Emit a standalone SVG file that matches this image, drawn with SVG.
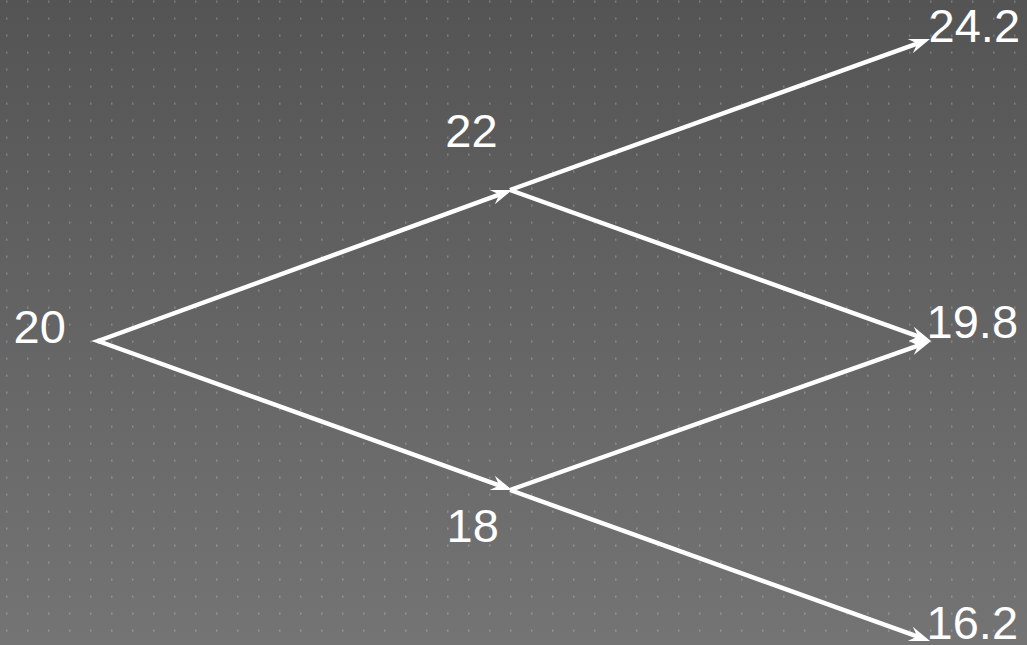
<svg xmlns="http://www.w3.org/2000/svg" width="1027" height="645" viewBox="0 0 1027 645">
  <style>
    .lbl { font-family: "Liberation Sans", Arial, sans-serif; font-size: 47px; fill: #ffffff; }
    .edge { fill: none; stroke: #ffffff; stroke-width: 4.5; stroke-linejoin: miter; stroke-miterlimit: 10; marker-end: url(#arrow); }
  </style>
  <defs>
    <linearGradient id="bg" x1="0" y1="0" x2="0" y2="1">
      <stop offset="0" stop-color="#545454"/>
      <stop offset="1" stop-color="#747474"/>
    </linearGradient>
    <pattern id="dots" patternUnits="userSpaceOnUse" width="21" height="17">
      <rect x="6" y="0.5" width="1.5" height="2.2" fill="#ffffff" fill-opacity="0.22"/>
    </pattern>
    <marker id="arrow" markerUnits="userSpaceOnUse" orient="auto-start-reverse" markerWidth="26" markerHeight="20" refX="13" refY="10" viewBox="0 0 26 20" overflow="visible">
      <path d="M23,10 L2,2.5 L9.5,10 L2,17.5 Z" fill="#ffffff"/>
    </marker>
  </defs>
  <rect width="1027" height="645" fill="url(#bg)"/>
  <rect width="1027" height="645" fill="url(#dots)"/>

  <g id="connectors">
    <path class="edge" d="M98,341 L502.6,193.4"/>
    <path class="edge" d="M98,341 L502.6,486.6"/>
    <path d="M100,340.3 L98,341 L100,341.7" fill="none" stroke="#ffffff" stroke-width="4.5" stroke-linejoin="miter" stroke-miterlimit="10"/>
    <path class="edge" d="M510,190 L920.6,42.4"/>
    <path class="edge" d="M510,190 L921.6,337.6"/>
    <path class="edge" d="M510,490 L921.6,344.3"/>
    <path class="edge" d="M510,490 L920.6,637.6"/>
  </g>

  <g id="node-20"><text class="lbl" x="13.6" y="342.5">20</text></g>
  <g id="node-22"><text class="lbl" x="445.3" y="146.7">22</text></g>
  <g id="node-18"><text class="lbl" x="446.6" y="541.7">18</text></g>
  <g id="node-24-2"><text class="lbl" x="928.6" y="42">24.2</text></g>
  <g id="node-19-8"><text class="lbl" x="926.6" y="338">19.8</text></g>
  <g id="node-16-2"><text class="lbl" x="926.6" y="639">16.2</text></g>
</svg>
